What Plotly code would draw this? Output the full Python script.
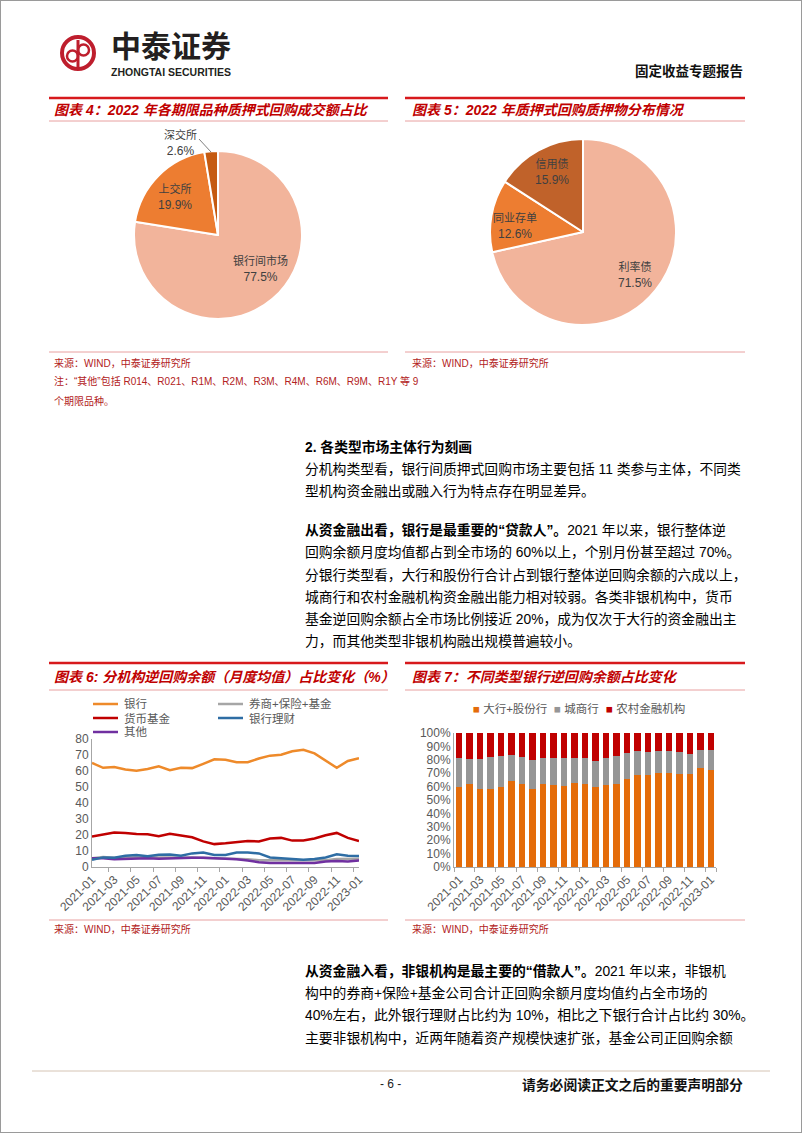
import plotly.graph_objects as go

W, H = 802, 1133
FONT = "Liberation Sans, Noto Sans CJK SC, sans-serif"
CJK = "Noto Sans CJK SC, Liberation Sans, sans-serif"


def X(px):
    return px / W


def Y(py):
    return 1 - py / H


# ---------------- data ----------------
pie4_labels = ["银行间市场", "上交所", "深交所"]
pie4_values = [77.5, 19.9, 2.6]
pie4_colors = ["#F2B49B", "#ED7D31", "#C55A11"]

pie5_labels = ["利率债", "同业存单", "信用债"]
pie5_values = [71.5, 12.6, 15.9]
pie5_colors = ["#F2B49B", "#ED7D31", "#C0622A"]

months = ["2021-01", "2021-02", "2021-03", "2021-04", "2021-05", "2021-06",
          "2021-07", "2021-08", "2021-09", "2021-10", "2021-11", "2021-12",
          "2022-01", "2022-02", "2022-03", "2022-04", "2022-05", "2022-06",
          "2022-07", "2022-08", "2022-09", "2022-10", "2022-11", "2022-12",
          "2023-01"]

line_names = ["银行", "券商+保险+基金", "货币基金", "银行理财", "其他"]
bank = [65, 62, 62.5, 61, 60.2, 61.2, 63, 60.5, 62, 61.8, 64.5, 67.3, 67,
        65.5, 65.5, 67.8, 69.6, 70.2, 72.3, 73.3, 71, 66.5, 62, 66.3, 68]
broker_ins_fund = [5.5, 6.2, 5.8, 6, 6.2, 6.2, 6, 6.2, 6, 6, 5.8, 5.8, 5.6,
                   5.2, 4.8, 4.2, 4, 4.2, 4.2, 4.2, 4, 4.2, 5, 5, 5.2]
money_fund = [19, 20.3, 21.5, 21.3, 20.6, 20.5, 19.2, 20.7, 19.7, 18.6, 16,
              14.3, 14.8, 15.5, 16.2, 16, 17.8, 18.2, 16.5, 16.5, 17.8, 19.8,
              21.3, 18.2, 16.2]
bank_wm = [4.5, 6, 5.8, 7, 7.5, 6.8, 7.6, 7.8, 7, 8.5, 9, 7.5, 7.5, 9, 9,
           8.5, 6, 5.3, 5, 4.5, 5, 6, 8, 7, 6.8]
other = [5.5, 5.5, 4.8, 5, 5.3, 5.5, 5.2, 5.5, 5.8, 5.8, 5.8, 5.5, 5.5, 4.8,
         4, 3, 2.5, 2.4, 2.3, 2.3, 2.5, 3.5, 3.8, 3.5, 4]
line_colors = ["#EE8A2A", "#A6A6A6", "#C00000", "#2E6DA4", "#7030A0"]

bar_names = ["大行+股份行", "城商行", "农村金融机构"]
big_joint = [60, 61.8, 58.3, 58.3, 59.5, 64.3, 61.8, 58.3, 61.8, 61, 60.5,
             62.5, 62, 60, 61, 62, 65.8, 68.3, 68.3, 70.5, 70.5, 69.3, 69.3,
             73.8, 72.5]
city_comm = [21, 18.7, 22.2, 23.7, 23, 19.2, 20.2, 21.7, 19.7, 20, 21, 19,
             19, 19, 20, 21, 19.2, 18, 17.2, 15.8, 15.8, 16.2, 15.2, 13.2,
             14.5]
rural = [19, 19.5, 19.5, 18, 17.5, 16.5, 18, 20, 18.5, 19, 18.5, 18.5, 19,
         21, 19, 17, 15, 13.7, 14.5, 13.7, 13.7, 14.5, 15.5, 13, 13]
bar_colors = ["#E46C0A", "#969696", "#C00000"]

tick_months = months[::2]

# ---------------- figure ----------------
fig = go.Figure()
annotations = []
shapes = []


def txt(x, y, s, size=13.8, color="#000000", anchor="left", family=FONT, pad=1):
    annotations.append(dict(x=X(x), y=Y(y), xref="paper", yref="paper",
                            text=s, showarrow=False, xanchor=anchor,
                            yanchor="middle", align=anchor if anchor != "center" else "center",
                            borderpad=pad,
                            font=dict(size=size, color=color, family=family)))


def hline(x0, x1, y, color, width):
    shapes.append(dict(type="line", xref="paper", yref="paper",
                       x0=X(x0), x1=X(x1), y0=Y(y), y1=Y(y),
                       line=dict(color=color, width=width)))


def seg(x0, y0, x1, y1, color, width):
    shapes.append(dict(type="line", xref="paper", yref="paper",
                       x0=X(x0), x1=X(x1), y0=Y(y0), y1=Y(y1),
                       line=dict(color=color, width=width)))


def circ(cx, cy, r, color, width):
    shapes.append(dict(type="circle", xref="paper", yref="paper",
                       x0=X(cx - r), x1=X(cx + r), y0=Y(cy + r), y1=Y(cy - r),
                       line=dict(color=color, width=width)))


# page frame
shapes.append(dict(type="rect", xref="paper", yref="paper", x0=0, x1=1, y0=0, y1=1,
                   line=dict(color="#9A9A9A", width=2)))

# ---- header / logo ----
LOGO_RED = "#BE1E2D"
circ(78, 53, 16, LOGO_RED, 4)
seg(78, 40, 78, 67, LOGO_RED, 3)
circ(72.5, 56, 5.5, LOGO_RED, 2.5)
circ(83.5, 50, 5.5, LOGO_RED, 2.5)
txt(110, 44, "<b>中泰证券</b>", size=30, color="#231F20", family=CJK, pad=0)
txt(110, 72, "<b>ZHONGTAI SECURITIES</b>", size=10.5, color="#231F20", pad=0)
txt(745, 70, "<b>固定收益专题报告</b>", size=13.5, color="#111111", anchor="right", family=CJK)

TITLE_RED = "#C00000"
THICK = "#D7191C"
THIN = "#E8A0A0"

# chart header bars
for (x0, x1) in [(49, 388), (405, 745)]:
    hline(x0, x1, 98, THICK, 2.5)
    hline(x0, x1, 121, THIN, 1)
    hline(x0, x1, 663, THICK, 2.5)
    hline(x0, x1, 690, THIN, 1)
    hline(x0, x1, 352, THIN, 1)
    hline(x0, x1, 920, THIN, 1)

txt(52, 110, "<b><i>图表 4：2022 年各期限品种质押式回购成交额占比</i></b>", size=14, color=TITLE_RED)
txt(410, 110, "<b><i>图表 5：2022 年质押式回购质押物分布情况</i></b>", size=14, color=TITLE_RED)
txt(52, 677, "<b><i>图表 6: 分机构逆回购余额（月度均值）占比变化（%）</i></b>", size=14, color=TITLE_RED)
txt(410, 677, "<b><i>图表 7：不同类型银行逆回购余额占比变化</i></b>", size=14, color=TITLE_RED)

SRC = "#B22222"
txt(52, 363, "来源：WIND，中泰证券研究所", size=10, color=SRC)
txt(52, 381, "注：“其他”包括 R014、R021、R1M、R2M、R3M、R4M、R6M、R9M、R1Y 等 9", size=10, color=SRC)
txt(52, 401, "个期限品种。", size=10, color=SRC)
txt(410, 363, "来源：WIND，中泰证券研究所", size=10, color=SRC)
txt(52, 929, "来源：WIND，中泰证券研究所", size=10, color=SRC)
txt(410, 929, "来源：WIND，中泰证券研究所", size=10, color=SRC)

# ---- pies ----
fig.add_trace(go.Pie(labels=pie4_labels, values=pie4_values, sort=False,
                     direction="clockwise", rotation=0, textinfo="none",
                     automargin=False,
                     marker=dict(colors=pie4_colors, line=dict(color="white", width=2)),
                     domain=dict(x=[X(134), X(302)], y=[Y(319), Y(151)]),
                     showlegend=False, hoverinfo="label+percent"))
fig.add_trace(go.Pie(labels=pie5_labels, values=pie5_values, sort=False,
                     direction="clockwise", rotation=0, textinfo="none",
                     automargin=False,
                     marker=dict(colors=pie5_colors, line=dict(color="white", width=2)),
                     domain=dict(x=[X(490), X(676)], y=[Y(325), Y(139)]),
                     showlegend=False, hoverinfo="label+percent"))

PIE_TXT = "#404040"
pie4_pos = [(260, 269), (175, 197), (180, 143)]
for (lab, val, (px_, py_)) in zip(pie4_labels, pie4_values, pie4_pos):
    txt(px_, py_, f"<span style='font-size:11px'>{lab}</span><br>{val:.1f}%",
        size=12, color=PIE_TXT, anchor="center")
seg(199, 139, 211, 152, "#808080", 1)

pie5_pos = [(635, 275), (515, 226), (552, 172)]
for (lab, val, (px_, py_)) in zip(pie5_labels, pie5_values, pie5_pos):
    txt(px_, py_, f"<span style='font-size:11px'>{lab}</span><br>{val:.1f}%",
        size=12, color=PIE_TXT, anchor="center")

# ---- line chart ----
line_series = [bank, broker_ins_fund, money_fund, bank_wm, other]
draw_order = [1, 4, 3, 2, 0]
for i in draw_order:
    fig.add_trace(go.Scatter(x=months, y=line_series[i], name=line_names[i],
                             mode="lines", line=dict(color=line_colors[i], width=2.5),
                             xaxis="x", yaxis="y", showlegend=False))

# manual legend chart 6
LEG = "#595959"
leg_pos = {0: (93, 704), 2: (93, 718), 4: (93, 732), 1: (218, 704), 3: (218, 718)}
for i, (lx, ly) in leg_pos.items():
    seg(lx, ly, lx + 25, ly, line_colors[i], 2.5)
    txt(lx + 30, ly, line_names[i], size=11.5, color=LEG, pad=0)

# ---- bar chart ----
for name, vals, col in zip(bar_names, [big_joint, city_comm, rural], bar_colors):
    fig.add_trace(go.Bar(x=months, y=vals, name=name, marker=dict(color=col, line=dict(width=0)),
                         xaxis="x2", yaxis="y2", showlegend=False))

leg7 = [(471, 0), (552, 1), (604, 2)]
for lx, i in leg7:
    txt(lx, 708, f"<span style='color:{bar_colors[i]}'>■</span> {bar_names[i]}", size=11.5, color=LEG)

# ---- body text ----
BODY = 13.8
BX = 303
txt(BX, 447, "<b>2. 各类型市场主体行为刻画</b>", size=BODY)
body1 = ["分机构类型看，银行间质押式回购市场主要包括 11 类参与主体，不同类",
         "型机构资金融出或融入行为特点存在明显差异。"]
for k, s in enumerate(body1):
    txt(BX, 469 + 22 * k, s, size=BODY)

body2 = ["<b>从资金融出看，银行是最重要的“贷款人”。</b>2021 年以来，银行整体逆",
         "回购余额月度均值都占到全市场的 60%以上，个别月份甚至超过 70%。",
         "分银行类型看，大行和股份行合计占到银行整体逆回购余额的六成以上，",
         "城商行和农村金融机构资金融出能力相对较弱。各类非银机构中，货币",
         "基金逆回购余额占全市场比例接近 20%，成为仅次于大行的资金融出主",
         "力，而其他类型非银机构融出规模普遍较小。"]
for k, s in enumerate(body2):
    txt(BX, 530 + 22.3 * k, s, size=BODY)

body3 = ["<b>从资金融入看，非银机构是最主要的“借款人”。</b>2021 年以来，非银机",
         "构中的券商+保险+基金公司合计正回购余额月度均值约占全市场的",
         "40%左右，此外银行理财占比约为 10%，相比之下银行合计占比约 30%。",
         "主要非银机构中，近两年随着资产规模快速扩张，基金公司正回购余额"]
for k, s in enumerate(body3):
    txt(BX, 971 + 22.3 * k, s, size=BODY)

# ---- footer ----
hline(32, 770, 1071, "#D5C4B4", 1)
txt(390, 1084, "- 6 -", size=12, color="#222222", anchor="center")
txt(745, 1084, "<b>请务必阅读正文之后的重要声明部分</b>", size=13.8, color="#111111", anchor="right", family=CJK)

AX = "#A6A6A6"
TK = dict(size=12, color="#595959", family=FONT)

fig.update_layout(
    width=W, height=H, margin=dict(l=0, r=0, t=0, b=0, pad=0, autoexpand=False),
    paper_bgcolor="white", plot_bgcolor="white",
    font=dict(family=FONT),
    annotations=annotations, shapes=shapes,
    barmode="stack", bargap=0.38,
    xaxis=dict(domain=[X(92), X(359)], anchor="y", type="category", automargin=False,
               tickvals=tick_months, ticktext=tick_months, tickangle=-45,
               showline=True, linecolor=AX, ticks="outside", tickson="boundaries",
               ticklen=4, tickcolor=AX, showgrid=False, tickfont=TK),
    yaxis=dict(domain=[Y(867), Y(739)], anchor="x", range=[0, 80], dtick=10, automargin=False,
               showline=True, linecolor=AX, showgrid=False, zeroline=False,
               tickfont=TK, ticks=""),
    xaxis2=dict(domain=[X(454), X(716)], anchor="y2", type="category", automargin=False,
                tickvals=tick_months, ticktext=tick_months, tickangle=-45,
                showline=True, linecolor=AX, ticks="outside", tickson="boundaries",
                ticklen=4, tickcolor=AX, showgrid=False, tickfont=TK),
    yaxis2=dict(domain=[Y(867), Y(733)], anchor="x2", range=[0, 100], dtick=10, automargin=False,
                ticksuffix="%", showline=True, linecolor=AX, showgrid=False,
                zeroline=False, tickfont=TK, ticks=""),
)

fig.write_html("out.html")
